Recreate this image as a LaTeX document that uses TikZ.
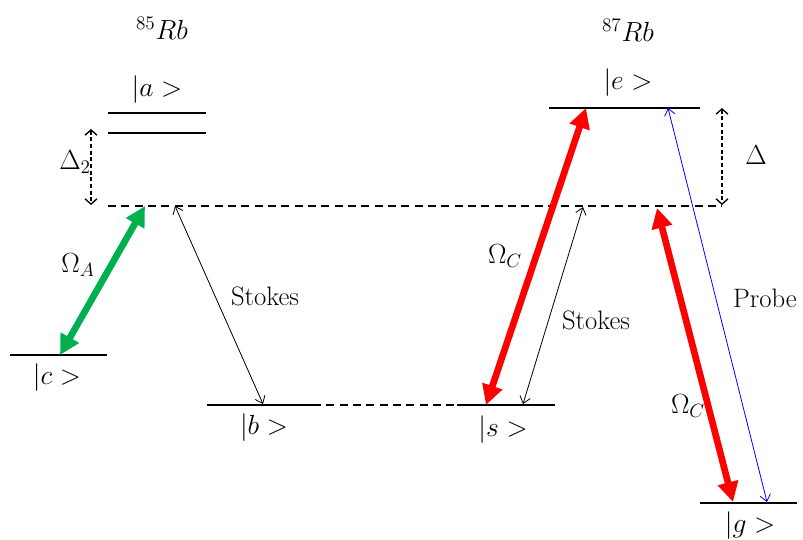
\documentclass[tikz,border=0pt]{standalone}
\usepackage{tikz}
\usetikzlibrary{arrows.meta, positioning, calc}
\definecolor{lvred}{HTML}{FF0000}
\definecolor{lvgreen}{HTML}{00B050}
\definecolor{lvblue}{HTML}{0000FF}

\begin{document}
\begin{tikzpicture}[x=0.75pt, y=-0.75pt, font=\fontsize{20}{24}\selectfont,
      lvl/.style={line width=2pt},
      virt/.style={line width=1.7pt, dash pattern=on 6pt off 4pt},
      thin/.style={line width=0.6pt, {Straight Barb[length=5pt,width=8pt]}-{Straight Barb[length=5pt,width=8pt]}},
      detune/.style={line width=1pt, dash pattern=on 3pt off 2pt, {Straight Barb[length=4pt,width=9pt]}-{Straight Barb[length=4pt,width=9pt]}},
      pump/.style={line width=5pt, {Triangle[length=15pt,width=15pt]}-{Triangle[length=15pt,width=15pt]}}]
      \useasboundingbox (0,0) rectangle (803,539);

      % level coordinates
      \coordinate (a1w) at (108,113); \coordinate (a1e) at (206,113);
      \coordinate (a2w) at (108,133); \coordinate (a2e) at (206,133);
      \coordinate (vw) at (108,206);  \coordinate (ve) at (722,206);
      \coordinate (cw) at (10,355);   \coordinate (ce) at (107,355);
      \coordinate (bw) at (207,405);  \coordinate (be) at (313,405);
      \coordinate (sw) at (457,405);  \coordinate (se) at (555,405);
      \coordinate (ew) at (549,108);  \coordinate (ee) at (700,108);
      \coordinate (gw) at (700,503);  \coordinate (ge) at (797,503);

      \draw[lvl] (a1w)--(a1e); \draw[lvl] (a2w)--(a2e);
      \draw[lvl] (cw)--(ce); \draw[lvl] (bw)--(be); \draw[lvl] (sw)--(se);
      \draw[lvl] (ew)--(ee); \draw[lvl] (gw)--(ge);
      \draw[virt] (vw)--(ve); \draw[virt] (be)--(sw);

      \node (rb85) at (162,28) {$^{85}Rb$};
      \node (rb87) at (628,30) {$^{87}Rb$};
      \node (ka) at (157,90) {$|a>$};
      \node (kc) at (57,378) {$|c>$};
      \node (kb) at (264,428) {$|b>$};
      \node (ks) at (503,430) {$|s>$};
      \node (ke) at (628,83) {$|e>$};
      \node (kg) at (750,526) {$|g>$};

      % detunings
      \coordinate (d2t) at (91,129); \coordinate (d2b) at (91,205);
      \coordinate (dt) at (722,108); \coordinate (db) at (722,205);
      \draw[detune] (d2t)--(d2b); \draw[detune] (dt)--(db);
      \node (lD2) at (75,162) {$\Delta_2$};
      \node (lD) at (756,155) {$\Delta$};

      % transitions
      \coordinate (gA1) at (145,206); \coordinate (gA2) at (60,355);
      \coordinate (sL1) at (175,206); \coordinate (sL2) at (263,404);
      \coordinate (rC1) at (586,108); \coordinate (rC2) at (486,405);
      \coordinate (sR1) at (583,207); \coordinate (sR2) at (523,404);
      \coordinate (rD1) at (657,208); \coordinate (rD2) at (733,502);
      \coordinate (pb1) at (668,108); \coordinate (pb2) at (767,502);

      \draw[pump, lvgreen] (gA1)--(gA2);
      \draw[pump, lvred] (rC1)--(rC2);
      \draw[pump, lvred] (rD1)--(rD2);
      \draw[thin] (sL1)--(sL2); \draw[thin] (sR1)--(sR2);
      \draw[thin, lvblue] (pb1)--(pb2);

      \node (lOA) at (78,265) {$\Omega_A$};
      \node (lOC1) at (505,256) {$\Omega_C$};
      \node (lOC2) at (688,406) {$\Omega_C$};
      \node (lSL) at (265,296) {Stokes};
      \node (lSR) at (596,320) {Stokes};
      \node (lPr) at (765,298) {Probe};
    \end{tikzpicture}
\end{document}
